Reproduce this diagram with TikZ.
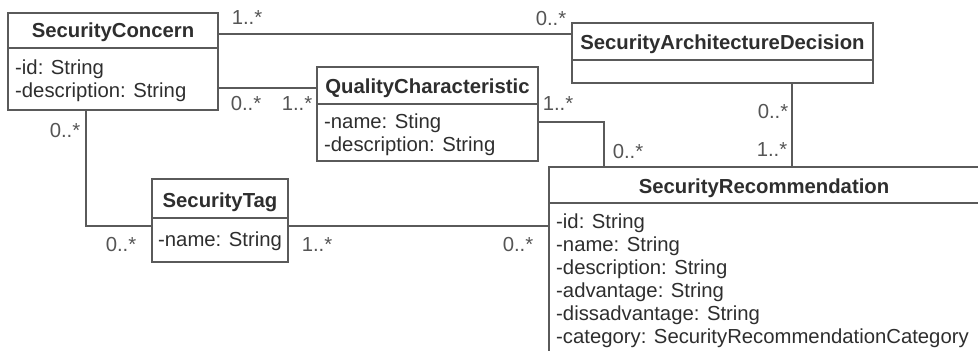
\documentclass[tikz,border=0pt]{standalone}
\usepackage{fontspec}
\setmainfont{Liberation Sans}
\definecolor{lncol}{HTML}{5A5A5A}
\definecolor{txcol}{HTML}{2E2E2E}
\definecolor{lbcol}{HTML}{555555}
\tikzset{
  classbox/.style={draw=lncol, line width=1.8pt, inner sep=0pt, outer sep=0pt, anchor=north west},
  sepline/.style={draw=lncol, line width=1.8pt},
  conn/.style={draw=lncol, line width=1.8pt},
  ctitle/.style={font=\fontsize{20.3}{23}\selectfont\bfseries, text=txcol, inner sep=0pt, anchor=base},
  attr/.style={font=\fontsize{20.3}{23}\selectfont, text=txcol, inner sep=0pt, anchor=base west},
  mult/.style={font=\fontsize{20.3}{23}\selectfont, text=lbcol, inner sep=0pt, anchor=center}
}
\begin{document}
\begin{tikzpicture}[x=1pt, y=-1pt]
\useasboundingbox (0,0) rectangle (978,351);
\clip (0,0) rectangle (978,351);

% SecurityConcern
\node[classbox, minimum width=210pt, minimum height=97pt] (sc) at (8,13) {};
\draw[sepline] ([yshift=-35pt]sc.north west) -- ([yshift=-35pt]sc.north east);
\node[ctitle] (sct) at ([yshift=-24pt]sc.north) {SecurityConcern};
\node[attr] (sca1) at (15,74) {-id: String};
\node[attr] (sca2) at (15,97) {-description: String};

% SecurityArchitectureDecision
\node[classbox, minimum width=301pt, minimum height=60pt] (sad) at (572,23) {};
\draw[sepline] ([yshift=-37pt]sad.north west) -- ([yshift=-37pt]sad.north east);
\node[ctitle] (sadt) at ([yshift=-26.5pt]sad.north) {SecurityArchitectureDecision};

% QualityCharacteristic
\node[classbox, minimum width=221pt, minimum height=94pt] (qc) at (317,67) {};
\draw[sepline] ([yshift=-37pt]qc.north west) -- ([yshift=-37pt]qc.north east);
\node[ctitle] (qct) at ([yshift=-26pt]qc.north) {QualityCharacteristic};
\node[attr] (qca1) at (324,128) {-name: Sting};
\node[attr] (qca2) at (324,151) {-description: String};

% SecurityTag
\node[classbox, minimum width=136pt, minimum height=83pt] (st) at (152,179) {};
\draw[sepline] ([yshift=-39pt]st.north west) -- ([yshift=-39pt]st.north east);
\node[ctitle] (stt) at ([yshift=-28pt]st.north) {SecurityTag};
\node[attr] (sta1) at (158,246) {-name: String};

% SecurityRecommendation
\node[classbox, minimum width=432pt, minimum height=200pt] (sr) at (549,167) {};
\draw[sepline] ([yshift=-36pt]sr.north west) -- ([yshift=-36pt]sr.north east);
\node[ctitle] (srt) at (764,193) {SecurityRecommendation};
\node[attr] (sra1) at (556,228) {-id: String};
\node[attr] (sra2) at (556,251) {-name: String};
\node[attr] (sra3) at (556,274) {-description: String};
\node[attr] (sra4) at (556,297) {-advantage: String};
\node[attr] (sra5) at (556,320) {-dissadvantage: String};
\node[attr] (sra6) at (556,343) {-category: SecurityRecommendationCategory};

% connectors
\draw[conn] ([yshift=-21pt]sc.north east) -- ([yshift=-11pt]sad.north west);
\draw[conn] ([yshift=-75pt]sc.north east) -- ([yshift=-21pt]qc.north west);
\draw[conn] ([yshift=-55pt]qc.north east) -| ([xshift=55pt]sr.north west);
\draw[conn] ([xshift=220pt]sad.south west) -- ([xshift=243pt]sr.north west);
\draw[conn] ([xshift=78pt]sc.south west) |- ([yshift=-47pt]st.north west);
\draw[conn] ([yshift=-47pt]st.north east) -- ([yshift=-59pt]sr.north west);

% multiplicities
\node[mult] (m1) at (247,18) {1..*};
\node[mult] (m2) at (551,19) {0..*};
\node[mult] (m3) at (246,104) {0..*};
\node[mult] (m4) at (297,104) {1..*};
\node[mult] (m5) at (558,104) {1..*};
\node[mult] (m6) at (628,152) {0..*};
\node[mult] (m7) at (773,112) {0..*};
\node[mult] (m8) at (772,150) {1..*};
\node[mult] (m9) at (65,131) {0..*};
\node[mult] (m10) at (121,245) {0..*};
\node[mult] (m11) at (317,245) {1..*};
\node[mult] (m12) at (518,245) {0..*};
\end{tikzpicture}
\end{document}
